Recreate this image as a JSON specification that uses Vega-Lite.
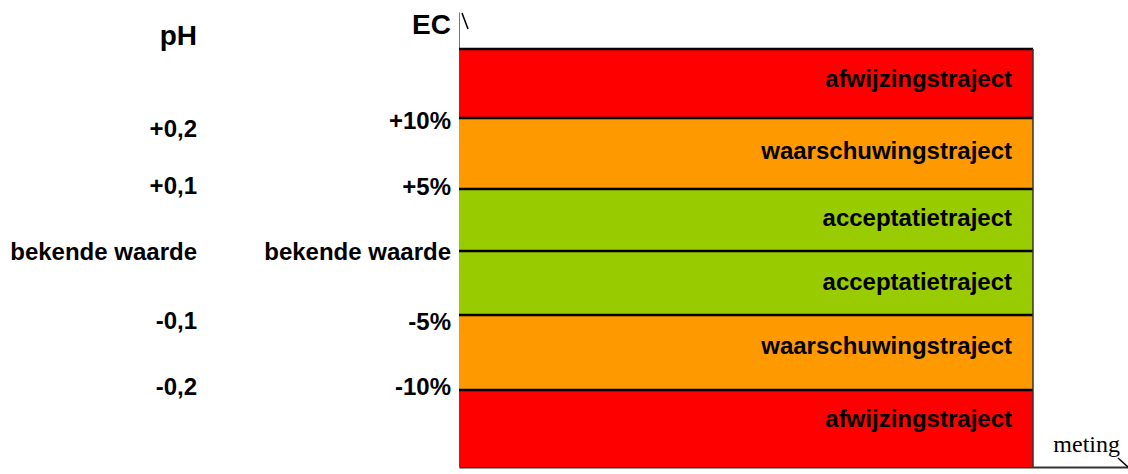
{
  "$schema": "https://vega.github.io/schema/vega-lite/v6.json",
  "width": 669,
  "height": 455,
  "autosize": "none",
  "padding": {"left": 459, "top": 12, "right": 0, "bottom": 7},
  "config": {"view": {"stroke": null}, "font": "Liberation Sans"},
  "datasets": {
    "bands": [
      {"label": "afwijzingstraject", "zone": "afwijzing", "lo": 349, "hi": 418, "ty": 387},
      {"label": "waarschuwingstraject", "zone": "waarschuwing", "lo": 278, "hi": 349, "ty": 315},
      {"label": "acceptatietraject", "zone": "acceptatie", "lo": 216, "hi": 278, "ty": 248},
      {"label": "acceptatietraject", "zone": "acceptatie", "lo": 152, "hi": 216, "ty": 184},
      {"label": "waarschuwingstraject", "zone": "waarschuwing", "lo": 77, "hi": 152, "ty": 120},
      {"label": "afwijzingstraject", "zone": "afwijzing", "lo": 0, "hi": 77, "ty": 47}
    ],
    "bounds": [{"b": 418}, {"b": 349}, {"b": 278}, {"b": 216}, {"b": 152}, {"b": 77}],
    "scale": [
      {"col": "pH", "kind": "title", "text": "pH", "y": 430},
      {"col": "pH", "kind": "label", "text": "+0,2", "y": 337},
      {"col": "pH", "kind": "label", "text": "+0,1", "y": 280},
      {"col": "pH", "kind": "label", "text": "bekende waarde", "y": 214},
      {"col": "pH", "kind": "label", "text": "-0,1", "y": 145},
      {"col": "pH", "kind": "label", "text": "-0,2", "y": 79},
      {"col": "EC", "kind": "title", "text": "EC", "y": 441},
      {"col": "EC", "kind": "label", "text": "+10%", "y": 345},
      {"col": "EC", "kind": "label", "text": "+5%", "y": 279},
      {"col": "EC", "kind": "label", "text": "bekende waarde", "y": 214},
      {"col": "EC", "kind": "label", "text": "-5%", "y": 144},
      {"col": "EC", "kind": "label", "text": "-10%", "y": 79}
    ],
    "arrows": [
      {"xa": 3, "ya": 454, "xb": 9, "yb": 438},
      {"xa": 659, "ya": 9, "xb": 669, "yb": 0}
    ]
  },
  "layer": [
    {
      "data": {"name": "bands"},
      "mark": {"type": "rect"},
      "encoding": {
        "x": {"datum": 0, "type": "quantitative", "scale": {"domain": [0, 669], "nice": false, "zero": false},
              "axis": {"labels": false, "ticks": false, "grid": false, "title": null, "domainColor": "#333333", "domainWidth": 2}},
        "x2": {"datum": 574},
        "y": {"field": "lo", "type": "quantitative", "scale": {"domain": [0, 455], "nice": false, "zero": false},
              "axis": {"labels": false, "ticks": false, "grid": false, "title": null, "domainColor": "#777777", "domainWidth": 1}},
        "y2": {"field": "hi"},
        "color": {"field": "zone", "type": "nominal", "legend": null,
                  "scale": {"domain": ["afwijzing", "waarschuwing", "acceptatie"], "range": ["#FF0000", "#FF9900", "#99CC00"]}}
      }
    },
    {
      "data": {"name": "bounds"},
      "mark": {"type": "rule", "color": "#000000", "strokeWidth": 2.5},
      "encoding": {
        "y": {"field": "b", "type": "quantitative"},
        "x": {"datum": 0, "type": "quantitative"},
        "x2": {"datum": 574}
      }
    },
    {
      "data": {"values": [{}]},
      "mark": {"type": "rule", "color": "#333333", "strokeWidth": 1.5},
      "encoding": {
        "x": {"datum": 574, "type": "quantitative"},
        "y": {"datum": 0, "type": "quantitative"},
        "y2": {"datum": 418}
      }
    },
    {
      "data": {"name": "arrows"},
      "mark": {"type": "rule", "color": "#000000", "strokeWidth": 1.5},
      "encoding": {
        "x": {"field": "xa", "type": "quantitative"},
        "x2": {"field": "xb"},
        "y": {"field": "ya", "type": "quantitative"},
        "y2": {"field": "yb"}
      }
    },
    {
      "data": {"name": "bands"},
      "mark": {"type": "text", "align": "right", "baseline": "middle", "fontWeight": "bold", "fontSize": 24, "color": "#000000"},
      "encoding": {
        "x": {"datum": 553, "type": "quantitative"},
        "y": {"field": "ty", "type": "quantitative"},
        "text": {"field": "label"}
      }
    },
    {
      "data": {"name": "scale"},
      "transform": [{"filter": "datum.col === 'pH'"}],
      "mark": {"type": "text", "align": "right", "baseline": "middle", "fontWeight": "bold", "color": "#000000"},
      "encoding": {
        "x": {"datum": -262, "type": "quantitative"},
        "y": {"field": "y", "type": "quantitative"},
        "text": {"field": "text"},
        "size": {"field": "kind", "type": "nominal", "legend": null, "scale": {"domain": ["title", "label"], "range": [28, 24]}}
      }
    },
    {
      "data": {"name": "scale"},
      "transform": [{"filter": "datum.col === 'EC'"}],
      "mark": {"type": "text", "align": "right", "baseline": "middle", "fontWeight": "bold", "color": "#000000"},
      "encoding": {
        "x": {"datum": -8, "type": "quantitative"},
        "y": {"field": "y", "type": "quantitative"},
        "text": {"field": "text"},
        "size": {"field": "kind", "type": "nominal", "legend": null, "scale": {"domain": ["title", "label"], "range": [28, 24]}}
      }
    },
    {
      "data": {"values": [{"t": "meting"}]},
      "mark": {"type": "text", "align": "right", "baseline": "alphabetic", "font": "Liberation Serif", "fontSize": 24, "color": "#000000"},
      "encoding": {
        "x": {"datum": 661, "type": "quantitative"},
        "y": {"datum": 15, "type": "quantitative"},
        "text": {"field": "t"}
      }
    }
  ]
}
